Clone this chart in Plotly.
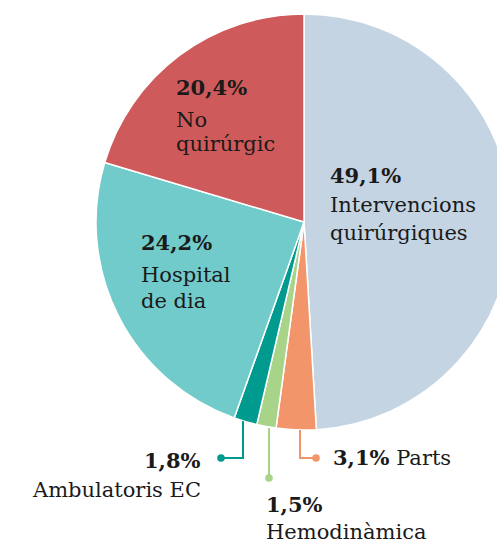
import plotly.graph_objects as go

categories = ["Intervencions quirúrgiques", "Parts", "Hemodinàmica",
              "Ambulatoris EC", "Hospital de dia", "No quirúrgic"]
values = [49.1, 3.1, 1.5, 1.8, 24.2, 20.4]
value_labels = ["49,1%", "3,1%", "1,5%", "1,8%", "24,2%", "20,4%"]
colors = ["#c4d4e3", "#f3956a", "#a8d48a", "#009a8f", "#72cbcb", "#cf5a5b"]

W, H = 522, 545
CX, CY, R = 304, 222, 208
FONT = "DejaVu Serif"
FS = 21

def fx(x):
    return x / W

def fy(y):
    return 1 - y / H

fig = go.Figure()
fig.add_trace(go.Pie(
    labels=categories, values=values, sort=False, direction="clockwise",
    rotation=0, marker=dict(colors=colors, line=dict(color="white", width=1.5)),
    textinfo="none", hoverinfo="label+percent", showlegend=False,
    domain=dict(x=[fx(CX - R), fx(CX + R)], y=[fy(CY + R), fy(CY - R)]),
))

def label(x, ys, lines, anchor="left"):
    for y, line in zip(ys, lines):
        fig.add_annotation(
            x=fx(x - 2 if anchor == "left" else x + 2), y=fy(y),
            xref="paper", yref="paper", xanchor=anchor, yanchor="middle",
            text=line, showarrow=False, align=anchor,
            font=dict(family=FONT, size=FS, color="#1a1a1a"),
        )

label(330, [175.5, 205, 233.5], [f"<b>{value_labels[0]}</b>", "Intervencions", "quirúrgiques"])
label(176, [87, 119.5, 144], [f"<b>{value_labels[5]}</b>", "No", "quirúrgic"])
label(141, [242, 275, 301], [f"<b>{value_labels[4]}</b>", "Hospital", "de dia"])
label(333, [457.5], [f"<b>{value_labels[1]}</b> Parts"])
label(201, [460.5, 490], [f"<b>{value_labels[3]}</b>", "Ambulatoris EC"], anchor="right")
label(266, [504, 531.5], [f"<b>{value_labels[2]}</b>", "Hemodinàmica"])

def leader(points, color):
    path = "M " + " L ".join(f"{fx(x)},{fy(y)}" for x, y in points)
    fig.add_shape(type="path", path=path, xref="paper", yref="paper",
                  line=dict(color=color, width=2))
    ex, ey = points[-1]
    r = 3.8
    fig.add_shape(type="circle", xref="paper", yref="paper",
                  x0=fx(ex - r), x1=fx(ex + r), y0=fy(ey + r), y1=fy(ey - r),
                  fillcolor=color, line=dict(width=0))

leader([(243, 421), (243, 458), (221, 458)], colors[3])
leader([(269, 428), (269, 478)], colors[2])
leader([(300, 430), (300, 458), (316, 458)], colors[1])

fig.update_layout(
    width=W, height=H, margin=dict(l=0, r=0, t=0, b=0),
    paper_bgcolor="white", plot_bgcolor="white",
    font=dict(family=FONT),
)

fig.write_html("out.html", config={"displayModeBar": False}, post_script=(
    "document.body.style.margin='0';document.body.style.overflow='hidden';"
    "document.documentElement.style.overflow='hidden';"
))
